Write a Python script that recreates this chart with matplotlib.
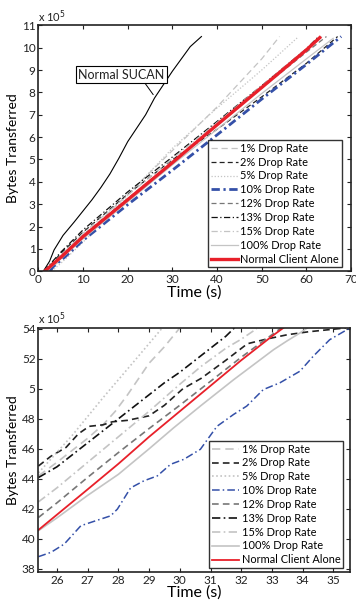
import matplotlib
matplotlib.use('Agg')
import matplotlib.pyplot as plt

plt.rcParams['font.family'] = ['Lato', 'DejaVu Sans']

# ---------- top panel data (bytes x 1e5 vs time s) ----------
sucan_t = [1.1, 2.5, 3.5, 5.5, 8, 10, 12, 14, 16, 18, 20, 22, 24, 26, 28, 30, 32, 34, 36.5]
sucan_v = [0, 0.45, 0.95, 1.6, 2.2, 2.7, 3.2, 3.75, 4.35, 5.05, 5.8, 6.4, 7.0, 7.75, 8.35, 8.95, 9.5, 10.05, 10.5]

top_t = {
    '1%':   [2.0, 5, 10, 20, 30, 40, 50, 54.0],
    '2%':   [1.5, 5, 10, 20, 30, 40, 50, 60, 67.0],
    '5%':   [3.0, 5, 10, 20, 30, 40, 50, 58.0],
    '10%':  [2.6, 3.3, 6, 10, 20, 30, 40, 50, 60, 67.8],
    '12%':  [1.3, 5, 10, 20, 30, 40, 50, 60, 64.5],
    '13%':  [1.2, 5, 10, 20, 30, 40, 50, 60, 62.5],
    '15%':  [1.5, 5, 10, 20, 30, 40, 50, 60, 63.5],
    '100%': [1.8, 5, 10, 20, 30, 40, 50, 60, 66.0],
    'normal': [1.4, 5, 10, 20, 30, 40, 50, 60, 63.0],
}
top_v = {
    '1%':   [0, 0.5, 1.5, 3.45, 5.4, 7.35, 9.5, 10.5],
    '2%':   [0, 0.8, 1.75, 3.45, 4.99, 6.35, 7.8, 9.3, 10.5],
    '5%':   [0, 0.35, 1.3, 3.4, 5.5, 7.3, 9.0, 10.45],
    '10%':  [0, 0.2, 0.65, 1.38, 2.98, 4.52, 6.1, 7.7, 9.25, 10.5],
    '12%':  [0, 0.7, 1.62, 3.25, 4.89, 6.55, 8.2, 9.8, 10.5],
    '13%':  [0, 0.85, 1.85, 3.55, 5.11, 6.7, 8.3, 9.95, 10.45],
    '15%':  [0, 0.7, 1.7, 3.4, 5.03, 6.65, 8.3, 9.95, 10.5],
    '100%': [0, 0.55, 1.45, 3.1, 4.76, 6.35, 7.95, 9.5, 10.42],
    'normal': [0, 0.62, 1.55, 3.2, 4.86, 6.55, 8.22, 9.9, 10.45],
}

# ---------- bottom panel data (zoomed) ----------
bot_t = {
    '1%':   [25.4, 26, 26.5, 27, 27.5, 27.9, 28.3, 28.7, 29.0, 29.5, 30.0],
    '2%':   [25.4, 25.8, 26.3, 26.7, 27.05, 27.5, 27.8, 28.3, 29.0, 29.5, 30.1, 30.7, 31.5, 32.2, 32.8, 33.5, 34.2, 35.4],
    '5%':   [25.4, 26.5, 27.5, 28.5, 29.45],
    '10%':  [25.4, 25.81, 26.24, 26.78, 27.1, 27.75, 27.97, 28.4, 28.83, 29.27, 29.7, 30.13, 30.67, 31.21, 31.75,
             32.18, 32.72, 33.26, 33.91, 34.34, 34.88, 35.53],
    '12%':  [25.4, 26, 27, 28, 29, 30, 31, 32, 33, 33.3],
    '13%':  [25.4, 26, 26.5, 27, 27.5, 28, 28.5, 29, 29.5, 30, 30.5, 31, 31.5, 31.8],
    '15%':  [25.4, 26, 27, 28, 29, 30, 30.7, 31.5, 32, 32.5],
    '100%': [25.4, 26, 27, 28, 29, 29.8, 30.7, 31.75, 33.05, 33.5, 33.9, 34.15],
    'normal': [25.4, 27, 28, 29, 30, 31, 32, 33, 33.4],
}
bot_v = {
    '1%':   [44.2, 45.1, 45.9, 46.7, 47.6, 48.5, 49.6, 50.8, 51.7, 52.8, 54.05],
    '2%':   [44.86, 45.5, 46.1, 47.0, 47.5, 47.6, 47.8, 47.9, 48.2, 48.9, 50.0, 50.7, 51.9, 53.0, 53.3, 53.6, 53.8, 54.05],
    '5%':   [44.4, 46.9, 49.4, 51.8, 54.1],
    '10%':  [38.82, 39.11, 39.66, 40.88, 41.1, 41.54, 41.99, 43.4, 43.87, 44.2, 44.97, 45.3, 45.97, 47.5, 48.29,
             48.85, 49.95, 50.4, 51.17, 52.16, 53.27, 54.04],
    '12%':  [41.43, 42.4, 44.1, 45.75, 47.35, 48.9, 50.5, 52.1, 53.6, 54.05],
    '13%':  [44.09, 44.8, 45.6, 46.4, 47.2, 48.0, 48.8, 49.6, 50.4, 51.1, 51.9, 52.7, 53.5, 54.1],
    '15%':  [42.47, 43.4, 45.1, 46.8, 48.5, 50.3, 51.5, 52.7, 53.3, 54.0],
    '100%': [40.55, 41.4, 42.9, 44.3, 46.0, 47.4, 48.9, 50.6, 52.6, 53.2, 53.7, 54.05],
    'normal': [40.6, 43.3, 45.0, 46.8, 48.5, 50.2, 51.9, 53.5, 54.1],
}

order = ['1%', '2%', '5%', '10%', '12%', '13%', '15%', '100%', 'normal']
labels = {k: k + ' Drop Rate' for k in order}
labels['normal'] = 'Normal Client Alone'

lightgray = '#c4c4c4'
styles = {
    '1%':   dict(color=lightgray, dashes=(5, 3)),
    '2%':   dict(color='#222222', dashes=(4, 2.5)),
    '5%':   dict(color=lightgray, linestyle=(0, (1, 1.5))),
    '10%':  dict(color='#3450a8', dashes=(5, 2, 1, 2)),
    '12%':  dict(color='#777777', dashes=(4, 2.5)),
    '13%':  dict(color='#111111', dashes=(5, 2, 1, 2)),
    '15%':  dict(color=lightgray, dashes=(5, 2, 1, 2)),
    '100%': dict(color=lightgray),
    'normal': dict(color='#e8202a'),
}
top_lw = {'10%': 2.0, 'normal': 2.4}
bot_lw = {'10%': 1.1, 'normal': 1.3}

fig = plt.figure(figsize=(3.56, 6.04), dpi=100)
ax1 = fig.add_axes([0.108, 0.551, 0.878, 0.407])
ax2 = fig.add_axes([0.108, 0.053, 0.876, 0.404])

ax1.plot(sucan_t, sucan_v, color='black', lw=0.8)
for k in order:
    st = dict(styles[k])
    if k == '10%':
        st['dashes'] = (3, 1.3, 0.8, 1.3)
    ax1.plot(top_t[k], top_v[k], lw=top_lw.get(k, 0.9), label=labels[k], **st)
    ax2.plot(bot_t[k], bot_v[k], lw=bot_lw.get(k, 1.2), label=labels[k], **styles[k])

ax1.annotate('Normal SUCAN', xy=(25.7, 7.9), xytext=(18.6, 8.8), fontsize=9,
             ha='center', va='center', color='#222222',
             bbox=dict(boxstyle='square,pad=0.2', fc='white', ec='black', lw=0.8),
             arrowprops=dict(arrowstyle='-', lw=0.7, color='black', shrinkA=0, shrinkB=0,
                             relpos=(0.75, 0.0)))

ax1.set_xlim(0, 70)
ax1.set_ylim(0, 11)
ax1.set_xticks(range(0, 71, 10))
ax1.set_yticks(range(0, 12))

ax2.set_xlim(25.4, 35.55)
ax2.set_ylim(37.8, 54.05)
ax2.set_xticks(range(26, 36))
ax2.set_yticks(range(38, 55, 2))
ax2.set_yticklabels(['38', '40', '42', '44', '46', '48', '5', '52', '54'])

for ax in (ax1, ax2):
    ax.tick_params(direction='in', top=True, right=True, labelsize=8.5, length=3,
                   width=0.8, pad=2, colors='#222222')
    for s in ax.spines.values():
        s.set_linewidth(1.2)
        s.set_color('#222222')
    ax.set_xlabel('Time (s)', fontsize=11.5, labelpad=0)
    ax.set_ylabel('Bytes Transferred', fontsize=10, labelpad=2)
    ax.text(0.0, 1.003, r'x 10$^5$', transform=ax.transAxes, fontsize=8,
            ha='left', va='bottom', color='#222222')

leg_kw = dict(fontsize=7.9, frameon=True, fancybox=False, handlelength=2.5,
              labelspacing=0.26, borderpad=0.25, handletextpad=0.2,
              borderaxespad=0, loc='lower right')
lg1 = ax1.legend(bbox_to_anchor=(0.97, 0.016), **leg_kw)
lg2 = ax2.legend(bbox_to_anchor=(0.977, 0.016), **leg_kw)
for lg in (lg1, lg2):
    lg.get_frame().set_edgecolor('black')
    lg.get_frame().set_linewidth(1.0)

fig.savefig('out.png', dpi=100)
